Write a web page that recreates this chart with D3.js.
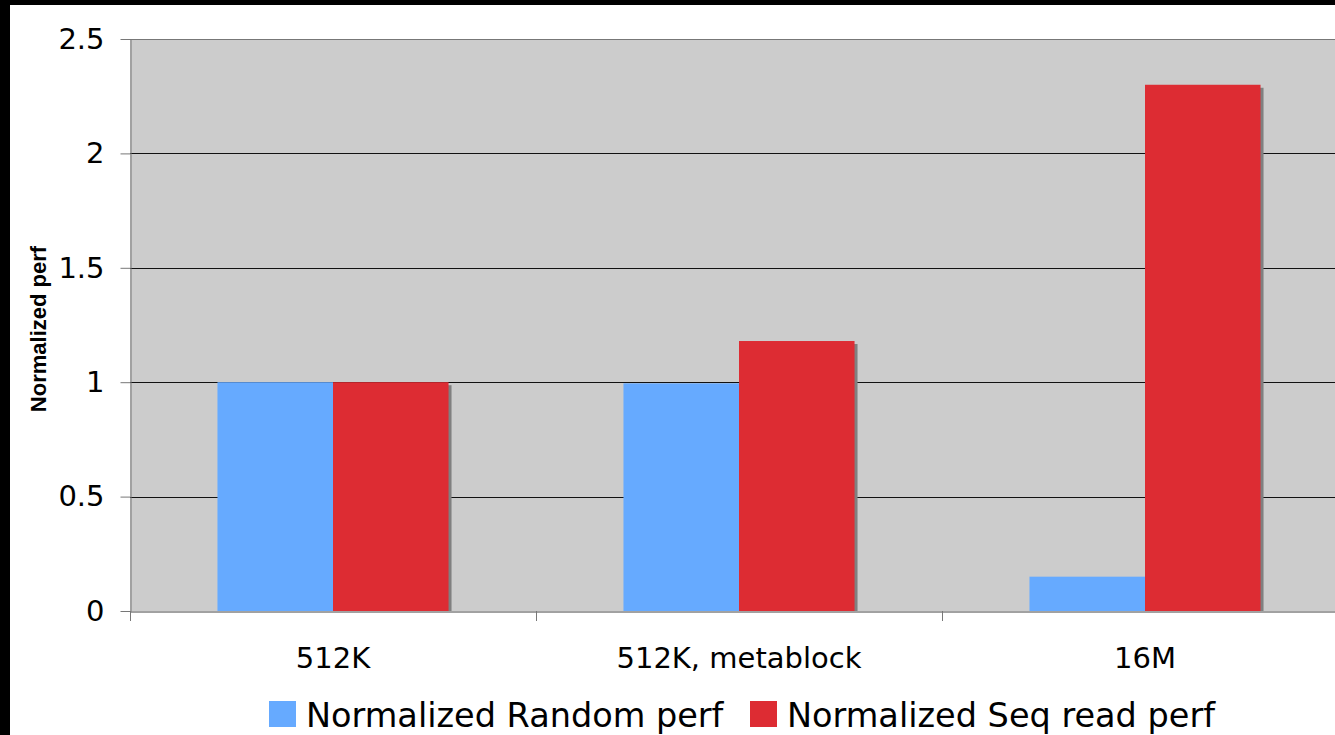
<!DOCTYPE html>
<html>
<head>
<meta charset="utf-8">
<script src="https://cdn.jsdelivr.net/npm/d3@7"></script>
<style>
  html, body { margin: 0; padding: 0; background: #fff; }
  svg { display: block; }
</style>
</head>
<body>
<svg id="chart" width="1335" height="735"></svg>
<script>
// Block size configurations and normalized performance
const categories = ["512K", "512K, metablock", "16M"];
const seriesNames = ["Normalized Random perf", "Normalized Seq read perf"];
const randomPerf = [1.0, 0.995, 0.15];
const seqReadPerf = [1.0, 1.18, 2.3];
const yTicks = [0, 0.5, 1, 1.5, 2, 2.5];
const seriesColors = ["#66aaff", "#dd2c33"];

const W = 1335, H = 735;
const svg = d3.select("#chart");

// Black frame on the left and top edges
svg.append("rect").attr("x", 0).attr("y", 0).attr("width", W).attr("height", H).attr("fill", "#000");
svg.append("rect").attr("x", 10).attr("y", 5).attr("width", W - 10).attr("height", H - 5).attr("fill", "#fff");

const plot = { left: 130, top: 39, right: 1348, bottom: 611 };

const y = d3.scaleLinear().domain([0, 2.5]).range([plot.bottom, plot.top]);
const x0 = d3.scaleBand().domain(categories).range([plot.left, plot.right]);
const x1 = d3.scaleBand().domain(seriesNames).range([0, x0.bandwidth()]).paddingOuter(0.757);

const valuesBySeries = [randomPerf, seqReadPerf];

// Plot background
svg.append("rect")
  .attr("x", plot.left).attr("y", plot.top)
  .attr("width", plot.right - plot.left).attr("height", plot.bottom - plot.top)
  .attr("fill", "#cccccc");

// Top border of the plot area
svg.append("line")
  .attr("x1", plot.left).attr("x2", plot.right)
  .attr("y1", plot.top + 0.5).attr("y2", plot.top + 0.5)
  .attr("stroke", "#777").attr("stroke-width", 1);

// Horizontal gridlines
svg.append("g").selectAll("line")
  .data(yTicks.filter(t => t > 0 && t < 2.5))
  .join("line")
  .attr("x1", plot.left).attr("x2", plot.right)
  .attr("y1", d => Math.round(y(d)) + 0.5).attr("y2", d => Math.round(y(d)) + 0.5)
  .attr("stroke", "#111").attr("stroke-width", 1);

// Bars with drop shadows
const groups = svg.append("g").selectAll("g")
  .data(categories)
  .join("g")
  .attr("transform", d => `translate(${x0(d)},0)`);

const barData = (c, i) => seriesNames.map((s, k) => ({ series: s, k, value: valuesBySeries[k][i] }));

groups.each(function (c, i) {
  const g = d3.select(this);
  const data = barData(c, i);
  g.selectAll("rect.shadow")
    .data(data)
    .join("rect")
    .attr("class", "shadow")
    .attr("x", d => x1(d.series) + 3)
    .attr("y", d => y(d.value) + 3)
    .attr("width", x1.bandwidth())
    .attr("height", d => plot.bottom - y(d.value) - 3)
    .attr("fill", "#808080");
  g.selectAll("rect.bar")
    .data(data)
    .join("rect")
    .attr("class", "bar")
    .attr("x", d => x1(d.series))
    .attr("y", d => y(d.value))
    .attr("width", x1.bandwidth())
    .attr("height", d => plot.bottom - y(d.value))
    .attr("fill", d => seriesColors[d.k]);
});

// Y axis
const yAxis = d3.axisLeft(y).tickValues(yTicks).tickSize(10).tickSizeOuter(0).tickPadding(16)
  .tickFormat(d => d3.format("")(d));
const yg = svg.append("g").attr("transform", `translate(${plot.left + 0.5},0)`).call(yAxis);
yg.select(".domain").attr("stroke", "#777");
yg.selectAll(".tick line").attr("stroke", "#777");
yg.selectAll(".tick text")
  .attr("font-family", "'DejaVu Sans', Verdana, sans-serif")
  .attr("font-size", 29).attr("fill", "#000");

// X axis
const xAxis = d3.axisBottom(x0).tickSize(0).tickSizeOuter(0).tickPadding(36);
const xg = svg.append("g").attr("transform", `translate(0,${plot.bottom + 0.5})`).call(xAxis);
xg.select(".domain").attr("stroke", "#444");
xg.selectAll(".tick text")
  .attr("font-family", "'DejaVu Sans', Verdana, sans-serif")
  .attr("font-size", 29).attr("fill", "#000");
// Category separator ticks
svg.append("g").selectAll("line")
  .data(categories)
  .join("line")
  .attr("x1", d => x0(d) + 0.5).attr("x2", d => x0(d) + 0.5)
  .attr("y1", plot.bottom).attr("y2", plot.bottom + 10)
  .attr("stroke", "#777");

// Y axis title
svg.append("text")
  .attr("transform", `translate(46,329) rotate(-90)`)
  .attr("text-anchor", "middle")
  .attr("font-family", "'Liberation Sans', Arial, sans-serif")
  .attr("font-weight", "bold")
  .attr("font-size", 22)
  .text("Normalized perf");

// Legend
const legend = svg.append("g");
const legendItems = [
  { name: seriesNames[0], color: seriesColors[0], x: 269 },
  { name: seriesNames[1], color: seriesColors[1], x: 750 }
];
legendItems.forEach(it => {
  legend.append("rect").attr("x", it.x).attr("y", 701).attr("width", 27).attr("height", 26).attr("fill", it.color);
  legend.append("text")
    .attr("x", it.x + 37).attr("y", 727)
    .attr("font-family", "'DejaVu Sans', Verdana, sans-serif")
    .attr("font-size", 33.5)
    .attr("fill", "#000")
    .text(it.name);
});
</script>
</body>
</html>
